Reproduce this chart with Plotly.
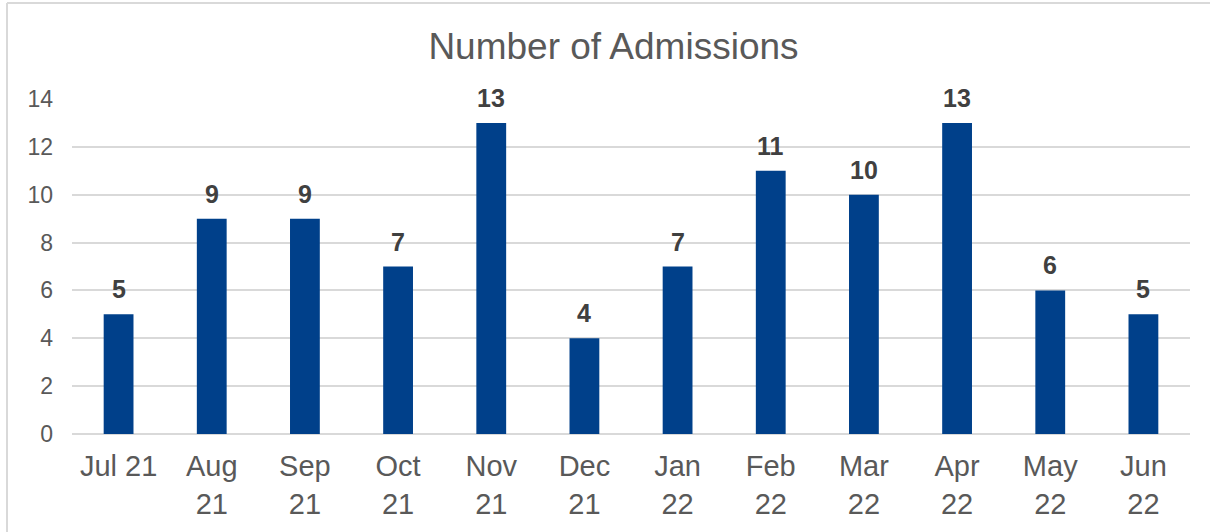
import plotly.graph_objects as go

# Monthly admissions, Jul 2021 - Jun 2022
months = ["Jul 21", "Aug<br>21", "Sep<br>21", "Oct<br>21", "Nov<br>21", "Dec<br>21",
          "Jan<br>22", "Feb<br>22", "Mar<br>22", "Apr<br>22", "May<br>22", "Jun<br>22"]
admissions = [5, 9, 9, 7, 13, 4, 7, 11, 10, 13, 6, 5]
y_ticks = [0, 2, 4, 6, 8, 10, 12, 14]

W, H = 1210, 532
L, R, T, B = 72, 20, 99, 98
pw, ph = W - L - R, H - T - B
FONT = "Liberation Sans, Arial, sans-serif"

fig = go.Figure(
    go.Bar(
        x=months,
        y=admissions,
        marker=dict(color="#00408A", line=dict(width=0)),
    )
)

# Value labels above each bar
for m, v in zip(months, admissions):
    fig.add_annotation(
        x=m, y=v, text=str(v), showarrow=False,
        yanchor="middle", yshift=25,
        font=dict(family=FONT, size=25, color="#404040", weight="bold"),
    )

# Light frame around the chart (left and top edges)
gx = (7 - L) / pw
gy = 1 + (T - 3) / ph
frame = dict(color="#D9D9D9", width=2)
fig.add_shape(type="line", xref="paper", yref="paper", x0=gx, x1=gx, y0=-1, y1=gy, line=frame)
fig.add_shape(type="line", xref="paper", yref="paper", x0=gx, x1=2, y0=gy, y1=gy, line=frame)

fig.update_layout(
    width=W,
    height=H,
    margin=dict(l=L, r=R, t=T, b=B, pad=0),
    paper_bgcolor="white",
    plot_bgcolor="white",
    bargap=0.68,
    showlegend=False,
    title=dict(
        text="Number of Admissions",
        x=0.507,
        xanchor="center",
        y=1 - 46 / H,
        yanchor="middle",
        font=dict(family=FONT, size=37, color="#595959"),
    ),
    xaxis=dict(
        showgrid=False,
        showline=False,
        ticks="",
        tickfont=dict(family=FONT, size=29, color="#595959"),
        ticklabelstandoff=12,
    ),
    yaxis=dict(
        range=[0, 14],
        tickvals=y_ticks,
        showgrid=True,
        gridcolor="#D9D9D9",
        gridwidth=2,
        zeroline=True,
        zerolinecolor="#D9D9D9",
        zerolinewidth=2,
        showline=False,
        ticks="",
        tickfont=dict(family=FONT, size=23, color="#595959"),
        ticklabelstandoff=18,
    ),
)

fig.write_html("out.html")
